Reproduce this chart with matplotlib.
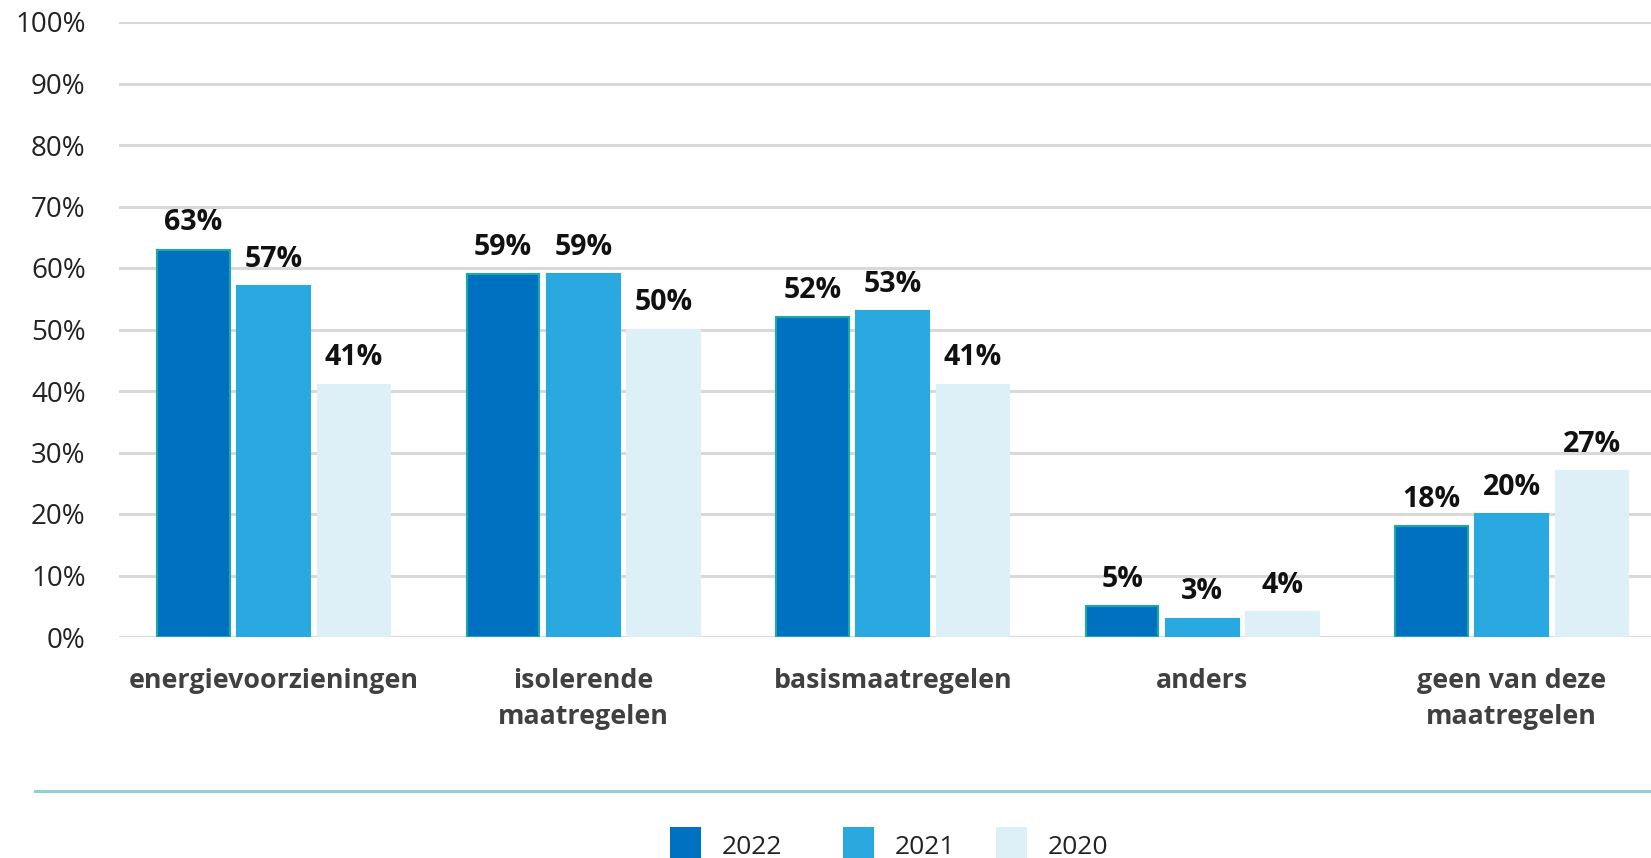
import matplotlib.pyplot as plt
from matplotlib.patches import Rectangle
from matplotlib.lines import Line2D
import numpy as np

plt.rcParams['font.family'] = ['Open Sans', 'DejaVu Sans']

# data
categories = ['energievoorzieningen', 'isolerende\nmaatregelen', 'basismaatregelen',
              'anders', 'geen van deze\nmaatregelen']
years = ['2022', '2021', '2020']
v2022 = [63, 59, 52, 5, 18]
v2021 = [57, 59, 53, 3, 20]
v2020 = [41, 50, 41, 4, 27]
yticks = [0, 10, 20, 30, 40, 50, 60, 70, 80, 90, 100]

colors = ['#0070c0', '#29a9e0', '#ddf0f8']
edges = ['#19aaa5', '#29a9e0', '#ddf0f8']

fig = plt.figure(figsize=(16.51, 8.58), dpi=100)
ax = fig.add_axes([119 / 1651, 1 - 637 / 858, 1 - 119 / 1651, (637 - 22) / 858])

x = np.arange(len(categories))
width = 0.235
step = 0.259
for i, (vals, c, ec) in enumerate(zip([v2022, v2021, v2020], colors, edges)):
    pos = x + (i - 1) * step
    ax.bar(pos, vals, width=width, color=c, edgecolor=ec, linewidth=1.5, zorder=3)
    for px, v in zip(pos, vals):
        ax.annotate(f'{v}%', (px, v), xytext=(0, 14), textcoords='offset points',
                    ha='center', va='baseline', fontsize=20.5, fontweight='bold',
                    color='#111111', zorder=4)

ax.set_xlim(-0.5, 4.45)
ax.set_ylim(0, 100)
ax.set_yticks(yticks)
ax.set_yticklabels([f'{t}%' for t in yticks], fontsize=20, color='#222222')
ax.set_xticks(x)
ax.set_xticklabels(categories, fontsize=19.3, fontweight='bold', color='#404040',
                   linespacing=1.5)
ax.tick_params(axis='y', length=0, pad=24)
ax.tick_params(axis='x', length=0, pad=22)
ax.grid(axis='y', color='#d9d9d9', linewidth=2.2, zorder=0)
ax.set_axisbelow(True)
for s in ax.spines.values():
    s.set_visible(False)

# separator line above legend
fig.add_artist(Line2D([35 / 1651, 1], [1 - 791 / 858] * 2, color='#8fd0d6',
                      linewidth=2.2, transform=fig.transFigure))

# legend
leg_x = [670, 843, 996]
for lx, yr, c in zip(leg_x, years, colors):
    fig.add_artist(Rectangle((lx / 1651, 0), 31 / 1651, (858 - 827) / 858,
                             facecolor=c, edgecolor='none', transform=fig.transFigure))
    fig.text((lx + 52) / 1651, 1 - 847 / 858, yr, fontsize=19, color='#222222',
             va='center', ha='left')

fig.savefig('out.png', dpi=100)
